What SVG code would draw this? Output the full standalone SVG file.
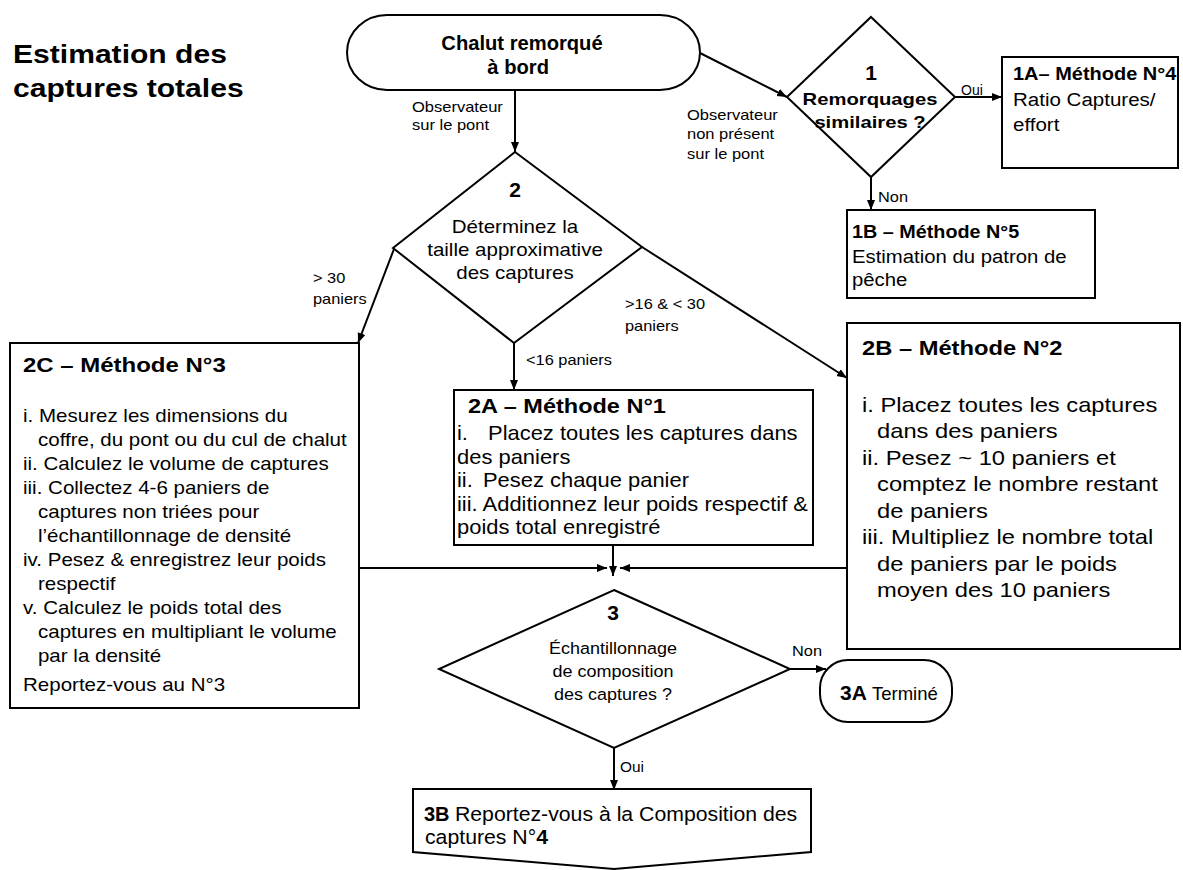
<svg xmlns="http://www.w3.org/2000/svg" width="1183" height="870" viewBox="0 0 1183 870">
<style>
.t{font-family:"Liberation Sans",Arial,sans-serif;fill:#000}
.b{font-weight:bold}
.node{fill:#fff;stroke:#000;stroke-width:2}
.edge{stroke:#000;stroke-width:2;fill:none;marker-end:url(#ah)}
</style>
<defs>
<marker id="ah" viewBox="0 0 10 10" refX="10" refY="5" markerWidth="10" markerHeight="10" markerUnits="userSpaceOnUse" orient="auto"><path d="M0,1 L10,5 L0,9 z" fill="#000"/></marker>
</defs>
<rect width="1183" height="870" fill="#fff"/>
<g id="title">
<text class="t b" font-size="25.5" transform="translate(13,0) scale(1.18,1)"><tspan x="0" y="63">Estimation des</tspan><tspan x="0" y="97">captures totales</tspan></text>
</g>
<g id="connectors">
<line class="edge" x1="515" y1="90" x2="515" y2="152"/>
<line class="edge" x1="700" y1="53" x2="787" y2="97"/>
<line class="edge" x1="955" y1="97" x2="1002" y2="97"/>
<line class="edge" x1="871" y1="177" x2="871" y2="210"/>
<line class="edge" x1="394" y1="249" x2="358" y2="343"/>
<line class="edge" x1="514" y1="343" x2="514" y2="390"/>
<line class="edge" x1="642" y1="247" x2="847" y2="378"/>
<line class="edge" x1="359" y1="568" x2="607" y2="568"/>
<line class="edge" x1="613" y1="545" x2="613" y2="576"/>
<line class="edge" x1="847" y1="568" x2="620" y2="568"/>
<line class="edge" x1="790" y1="669" x2="826" y2="669"/>
<line class="edge" x1="614" y1="748" x2="614" y2="790"/>
<text class="t" font-size="14" transform="translate(412,0) scale(1.18,1)"><tspan x="0" y="112">Observateur</tspan><tspan x="0" y="130">sur le pont</tspan></text>
<text class="t" font-size="14" transform="translate(687,0) scale(1.18,1)"><tspan x="0" y="120">Observateur</tspan><tspan x="0" y="139.5">non présent</tspan><tspan x="0" y="159">sur le pont</tspan></text>
<text class="t" font-size="14" x="961" y="95">Oui</text>
<text class="t" font-size="14" transform="translate(878,0) scale(1.17,1)"><tspan x="0" y="202">Non</tspan></text>
<text class="t" font-size="14" transform="translate(313,0) scale(1.17,1)"><tspan x="0" y="283">&gt; 30</tspan><tspan x="0" y="304">paniers</tspan></text>
<text class="t" font-size="14" transform="translate(625,0) scale(1.17,1)"><tspan x="0" y="309">&gt;16 &amp; &lt; 30</tspan><tspan x="0" y="331">paniers</tspan></text>
<text class="t" font-size="14" transform="translate(526,0) scale(1.17,1)"><tspan x="0" y="365">&lt;16 paniers</tspan></text>
<text class="t" font-size="14" transform="translate(792,0) scale(1.17,1)"><tspan x="0" y="656">Non</tspan></text>
<text class="t" font-size="14" transform="translate(620,0) scale(1.1,1)"><tspan x="0" y="772">Oui</tspan></text>
</g>
<g id="start">
<rect class="node" x="347" y="15" width="353" height="75" rx="40" ry="37.5"/>
<text class="t b" font-size="21" text-anchor="middle" transform="translate(522,0) scale(0.96,1)"><tspan x="0" y="50.5">Chalut remorqué</tspan><tspan x="-4" y="74">à bord</tspan></text>
</g>
<g id="d1">
<polygon class="node" points="871,17 955,97 871,177 787,97"/>
<text class="t b" font-size="21" text-anchor="middle" x="871" y="80">1</text>
<text class="t b" font-size="17" text-anchor="middle" transform="translate(870,0) scale(1.19,1)"><tspan x="0" y="105">Remorquages</tspan><tspan x="0" y="128">similaires ?</tspan></text>
</g>
<g id="n1A">
<rect class="node" x="1002" y="57" width="176" height="111"/>
<text class="t" font-size="19" transform="translate(1013,0) scale(1.08,1)"><tspan class="b" font-size="18.5" x="0" y="80">1A– Méthode N°4</tspan><tspan x="0" y="106">Ratio Captures/</tspan><tspan x="0" y="131">effort</tspan></text>
</g>
<g id="n1B">
<rect class="node" x="847" y="210" width="248" height="88"/>
<text class="t" font-size="19" transform="translate(852,0) scale(1.07,1)"><tspan class="b" font-size="18.5" x="0" y="238">1B – Méthode N°5</tspan><tspan x="0" y="263">Estimation du patron de</tspan><tspan x="0" y="286">pêche</tspan></text>
</g>
<g id="d2">
<polygon class="node" points="515,152 642,247 514,343 393,248"/>
<text class="t b" font-size="21" text-anchor="middle" x="515" y="197">2</text>
<text class="t" font-size="17.7" text-anchor="middle" transform="translate(515,0) scale(1.16,1)"><tspan x="0" y="233">Déterminez la</tspan><tspan x="0" y="256.5">taille approximative</tspan><tspan x="0" y="279.5">des captures</tspan></text>
</g>
<g id="n2C">
<rect class="node" x="10" y="343" width="349" height="365"/>
<text class="t b" font-size="20.5" transform="translate(23,0) scale(1.17,1)"><tspan x="0" y="372">2C – Méthode N°3</tspan></text>
<text class="t" font-size="17.7" transform="translate(23,0) scale(1.16,1)"><tspan x="0" y="422.5">i. Mesurez les dimensions du</tspan><tspan x="12.9" y="446.5">coffre, du pont ou du cul de chalut</tspan><tspan x="0" y="470.5">ii. Calculez le volume de captures</tspan><tspan x="0" y="494.5">iii. Collectez 4-6 paniers de</tspan><tspan x="12.9" y="518.5">captures non triées pour</tspan><tspan x="12.9" y="542.5">l’échantillonnage de densité</tspan><tspan x="0" y="566.5">iv. Pesez &amp; enregistrez leur poids</tspan><tspan x="12.9" y="590.5">respectif</tspan><tspan x="0" y="614.5">v. Calculez le poids total des</tspan><tspan x="12.9" y="638.5">captures en multipliant  le volume</tspan><tspan x="12.9" y="662.5">par la densité</tspan><tspan x="0" y="691">Reportez-vous au N°3</tspan></text>
</g>
<g id="n2A">
<rect class="node" x="454" y="390" width="359" height="155"/>
<text class="t b" font-size="21" transform="translate(468,0) scale(1.12,1)"><tspan x="0" y="413">2A – Méthode N°1</tspan></text>
<text class="t" font-size="20.5" transform="translate(457,0) scale(1.07,1)"><tspan x="0" y="440.5">i.</tspan><tspan x="29" y="440.5">Placez toutes les captures dans</tspan><tspan x="0" y="464">des paniers</tspan><tspan x="0" y="487.5">ii.</tspan><tspan x="24.3" y="487.5">Pesez chaque panier</tspan><tspan x="0" y="511">iii. Additionnez leur poids respectif &amp;</tspan><tspan x="0" y="534.5">poids total enregistré</tspan></text>
</g>
<g id="n2B">
<rect class="node" x="847" y="323" width="333" height="326"/>
<text class="t b" font-size="21" transform="translate(862,0) scale(1.13,1)"><tspan x="0" y="355">2B – Méthode N°2</tspan></text>
<text class="t" font-size="21" transform="translate(862,0) scale(1.13,1)"><tspan x="0" y="412">i. Placez toutes les captures</tspan><tspan x="13.3" y="438.5">dans des paniers</tspan><tspan x="0" y="465">ii. Pesez ~ 10 paniers et</tspan><tspan x="13.3" y="491.5">comptez le nombre restant</tspan><tspan x="13.3" y="518">de paniers</tspan><tspan x="0" y="544.5">iii. Multipliez le nombre total</tspan><tspan x="13.3" y="571">de paniers par  le poids</tspan><tspan x="13.3" y="597.5">moyen des 10 paniers</tspan></text>
</g>
<g id="d3">
<polygon class="node" points="614,590 790,669 614,748 439,669"/>
<text class="t b" font-size="21" text-anchor="middle" x="613" y="620">3</text>
<text class="t" font-size="16.5" text-anchor="middle" transform="translate(613,0) scale(1.09,1)"><tspan x="0" y="654">Échantillonnage</tspan><tspan x="0" y="677">de composition</tspan><tspan x="0" y="700">des captures ?</tspan></text>
</g>
<g id="n3A">
<rect class="node" x="820" y="660" width="132" height="62" rx="28" ry="28"/>
<text class="t" x="840" y="700"><tspan class="b" font-size="21">3A</tspan><tspan font-size="18.5" x="872">Terminé</tspan></text>
</g>
<g id="n3B">
<path class="node" d="M413,789 H811 V852 L614,869 L413,852 Z"/>
<text class="t b" font-size="20" x="424" y="821">3B</text>
<text class="t" font-size="19.5" transform="translate(425,0) scale(1.09,1)"><tspan x="27.5" y="821">Reportez-vous à la Composition des</tspan><tspan x="0" y="844">captures N°</tspan><tspan class="b">4</tspan></text>
</g>
</svg>
